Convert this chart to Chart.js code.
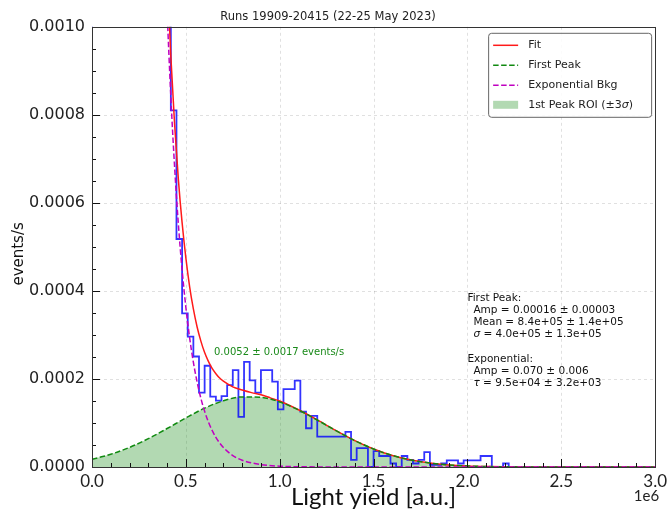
<!DOCTYPE html>
<html>
<head>
<meta charset="utf-8">
<script src="https://cdn.jsdelivr.net/npm/chart.js@4.4.1/dist/chart.umd.min.js"></script>
<style>
  html, body { margin: 0; padding: 0; background: #fff; }
  #wrap { width: 671px; height: 513px; }
</style>
</head>
<body>
<div id="wrap"><canvas id="c" width="671" height="513"></canvas></div>
<script>
// Light yield spectrum with first-peak + exponential fit
// x in units of 1e6 a.u., y in events/s

const binWidth = 0.03

// histogram, one value per bin starting at 0 (first bins are off scale)
const histCounts = [
  0.0696, 0.0505, 0.0369, 0.0265, 0.0193, 0.0141, 0.0102, 0.0074, 0.0054, 0.0039,
  0.0029, 0.0021, 0.0015, 0.00112, 0.00081, 0.000518, 0.000349, 0.000296, 0.000251, 0.000169,
  0.000230, 0.000160, 0.000151, 0.000161, 0.000186, 0.000220, 0.000114, 0.000239, 0.000197, 0.000169,
  0.000220, 0.000220, 0.000194, 0.000131, 0.000177, 0.000177, 0.000196, 0.000126, 0.000088, 0.000116,
  0.000069, 0.000069, 0.000069, 0.000069, 0.000069, 0.000080, 0.000016, 0.000043, 0.000043, 0,
  0.000036, 0.000025, 0.000025, 0.000008, 0, 0.000025, 0.000016, 0.000008, 0.000016, 0.000034,
  0.000005, 0.000005, 0.000008, 0.000015, 0.000015, 0.000008, 0.000015, 0.000015, 0.000015, 0.000025,
  0.000025, 0, 0, 0.000008
]

// total fit
const fitX = [0.36, 0.38, 0.40, 0.42, 0.44, 0.46, 0.48, 0.50, 0.52, 0.54, 0.56, 0.58, 0.60, 0.62, 0.64, 0.66, 0.68, 0.70,
  0.75, 0.80, 0.85, 0.90, 0.95, 1.0, 1.1, 1.2, 1.3, 1.4, 1.5, 1.6, 1.7, 1.8, 1.9, 2.0, 2.1, 2.2, 2.3, 2.5, 3.0]
const fitY = [0.001662, 0.001365, 0.001126, 0.000933, 0.000779, 0.000654, 0.000555, 0.000475, 0.000410, 0.000359,
  0.000318, 0.000286, 0.000260, 0.000240, 0.000224, 0.000212, 0.000202, 0.000195,
  0.000182, 0.000175, 0.000169, 0.000164, 0.000157, 0.000150, 0.000130, 0.000107, 0.0000826, 0.0000600,
  0.0000410, 0.0000263, 0.0000159, 0.0000090, 0.0000048, 0.0000024, 0.0000011, 0.0000005, 0.0000002, 0, 0]

// first peak (gaussian part)
const peakX = [0, 0.1, 0.2, 0.3, 0.4, 0.5, 0.6, 0.7, 0.8, 0.9, 1.0, 1.1, 1.2, 1.3, 1.4, 1.5,
  1.6, 1.7, 1.8, 1.9, 2.0, 2.1, 2.2, 2.3, 2.4, 2.5, 2.6, 2.7, 2.8, 2.9, 3.0]
const peakY = [0.0000176, 0.0000289, 0.0000445, 0.0000643, 0.0000874, 0.0001115, 0.0001337, 0.0001505,
  0.0001592, 0.0001582, 0.0001477, 0.0001296, 0.0001067, 0.0000826, 0.0000600, 0.0000410,
  0.0000263, 0.0000159, 0.0000090, 0.0000048, 0.0000024, 0.0000011, 0.0000005, 0.0000002, 0, 0, 0, 0, 0, 0, 0]

// exponential background
const expX = [0.36, 0.38, 0.40, 0.42, 0.44, 0.46, 0.48, 0.50, 0.52, 0.54, 0.56, 0.58, 0.60, 0.62, 0.64, 0.66, 0.68, 0.70,
  0.75, 0.80, 0.90, 1.0, 1.2, 1.5, 2.0, 3.0]
const expY = [0.001584, 0.001282, 0.001039, 0.000841, 0.000682, 0.000552, 0.000448, 0.000363, 0.000294, 0.000238,
  0.000193, 0.000156, 0.0001265, 0.0001025, 0.0000831, 0.0000673, 0.0000545, 0.0000442,
  0.000026, 0.0000154, 0.0000054, 0.0000019, 0.0000002, 0, 0, 0]

// mean +- 3 sigma
const roiRange = [-0.36, 2.04]

const xTicks = [0, 0.5, 1.0, 1.5, 2.0, 2.5, 3.0]
const yTicks = [0, 0.0002, 0.0004, 0.0006, 0.0008, 0.0010]

const titleText = 'Runs 19909-20415 (22-25 May 2023)'
const yTitle = 'events/s'
const roiText = '0.0052 ± 0.0017 events/s'
const fitInfo = [
  ['', 'First Peak:', 0],
  ['', 'Amp = 0.00016 ± 0.00003', 1],
  ['', 'Mean = 8.4e+05 ± 1.4e+05', 1],
  ['σ', ' = 4.0e+05 ± 1.3e+05', 1],
  ['', '', 0],
  ['', 'Exponential:', 0],
  ['', 'Amp = 0.070 ± 0.006', 1],
  ['τ', ' = 9.5e+04 ± 3.2e+03', 1],
]

const SANS = "'DejaVu Sans', sans-serif"
const LATO = "Lato, 'Open Sans', sans-serif"

Chart.defaults.font.family = SANS
Chart.defaults.color = '#222'

const histPts = [{ x: 0, y: 0 }]
histCounts.forEach((c, i) => histPts.push({ x: i * binWidth, y: c }))
histPts.push({ x: histCounts.length * binWidth, y: 0 })

const toPts = (xs, ys) => xs.map((x, i) => ({ x, y: ys[i] }))
const roiPts = toPts(peakX, peakY).filter(p => p.x >= roiRange[0] && p.x <= roiRange[1])

// text with italic greek letters (sigma / tau)
function drawRich(ctx, text, x, y, size) {
  const parts = text.split(/([στ])/)
  let cx = x
  parts.forEach(p => {
    if (!p) return
    ctx.font = (/[στ]/.test(p) ? 'italic ' : '') + size + 'px ' + SANS
    ctx.fillText(p, cx, y)
    cx += ctx.measureText(p).width
  })
}

// legend shows fit, peak, exp, roi
const legendOrder = [2, 3, 4, 1]

const decorations = {
  id: 'decorations',
  beforeDatasetsDraw(chart) {
    const { ctx, chartArea: a, scales: { x, y } } = chart
    ctx.save()
    ctx.strokeStyle = 'rgba(0,0,0,0.12)'
    ctx.lineWidth = 1
    ctx.setLineDash([3, 3])
    ctx.beginPath()
    xTicks.forEach(v => {
      const px = Math.round(x.getPixelForValue(v)) + 0.5
      ctx.moveTo(px, a.top); ctx.lineTo(px, a.bottom)
    })
    yTicks.forEach(v => {
      const py = Math.round(y.getPixelForValue(v)) + 0.5
      ctx.moveTo(a.left, py); ctx.lineTo(a.right, py)
    })
    ctx.stroke()
    ctx.restore()
  },
  afterDatasetsDraw(chart) {
    const { ctx, chartArea: a, scales: { x, y } } = chart
    ctx.save()

    // inward ticks, bottom + left
    ctx.strokeStyle = '#111'
    ctx.lineWidth = 1
    ctx.beginPath()
    for (let i = 0; i <= 30; i++) {
      const px = Math.round(x.getPixelForValue(i / 10)) + 0.5
      const len = i % 5 === 0 ? 8 : 4
      ctx.moveTo(px, a.bottom); ctx.lineTo(px, a.bottom - len)
    }
    for (let i = 0; i <= 20; i++) {
      const py = Math.round(y.getPixelForValue(i * 0.00005)) + 0.5
      const len = i % 4 === 0 ? 8 : 4
      ctx.moveTo(a.left, py); ctx.lineTo(a.left + len, py)
    }
    ctx.stroke()

    // frame
    ctx.strokeStyle = '#333'
    ctx.strokeRect(Math.round(a.left) + 0.5, Math.round(a.top) + 0.5, Math.round(a.width), Math.round(a.height))

    // y axis title, sits a bit below centre in the original
    ctx.save()
    ctx.translate(19, (a.top + a.bottom) / 2 + 7)
    ctx.rotate(-Math.PI / 2)
    ctx.textAlign = 'center'
    ctx.textBaseline = 'middle'
    ctx.fillStyle = '#111'
    ctx.font = '15px ' + SANS
    ctx.fillText(yTitle, 0, 0)
    ctx.restore()

    // ROI integral
    ctx.fillStyle = '#1a8a1a'
    ctx.textBaseline = 'middle'
    ctx.textAlign = 'left'
    ctx.font = '10px ' + SANS
    ctx.fillText(roiText, x.getPixelForValue(0.65), y.getPixelForValue(0.00026))

    // fit parameters
    ctx.fillStyle = '#111'
    const bx = x.getPixelForValue(2.0)
    const by = y.getPixelForValue(0.000384)
    fitInfo.forEach(([sym, txt, ind], i) => {
      drawRich(ctx, sym + txt, bx + ind * 6, by + i * 12.2, 10.5)
    })

    // offset label
    ctx.font = '15px ' + LATO
    ctx.textAlign = 'right'
    ctx.fillStyle = '#222'
    ctx.fillText('1e6', a.right + 4, x.bottom - 17)

    // legend
    const w = 163, h = 84
    const lx = a.right - w - 4, ly = a.top + 6
    ctx.fillStyle = 'rgba(255,255,255,0.85)'
    ctx.strokeStyle = '#666'
    ctx.beginPath()
    ctx.roundRect(lx + 0.5, ly + 0.5, w, h, 3)
    ctx.fill(); ctx.stroke()
    ctx.textAlign = 'left'
    legendOrder.forEach((di, i) => {
      const ds = chart.data.datasets[di]
      const ry = ly + 12 + i * 20
      if (ds.fill) {
        ctx.fillStyle = ds.backgroundColor
        ctx.fillRect(lx + 5, ry - 4, 25, 8)
      } else {
        ctx.strokeStyle = ds.borderColor
        ctx.lineWidth = ds.borderWidth
        ctx.setLineDash(ds.borderDash || [])
        ctx.beginPath(); ctx.moveTo(lx + 5, ry + 0.5); ctx.lineTo(lx + 30, ry + 0.5); ctx.stroke()
        ctx.setLineDash([])
      }
      ctx.fillStyle = '#222'
      drawRich(ctx, ds.label, lx + 40, ry, 11)
    })
    ctx.restore()
  }
}

new Chart(document.getElementById('c'), {
  type: 'line',
  data: {
    datasets: [
      { label: 'Data', data: histPts, stepped: true, borderColor: 'rgba(0,0,255,0.8)', borderWidth: 1.8,
        pointRadius: 0, fill: false, order: 4 },
      { label: '1st Peak ROI (±3σ)', data: roiPts, borderWidth: 0, pointRadius: 0,
        backgroundColor: 'rgba(0,128,0,0.3)', fill: 'origin', cubicInterpolationMode: 'monotone', order: 5 },
      { label: 'Fit', data: toPts(fitX, fitY), borderColor: '#ff1a1a', borderWidth: 1.5, pointRadius: 0,
        fill: false, cubicInterpolationMode: 'monotone', order: 3 },
      { label: 'First Peak', data: toPts(peakX, peakY), borderColor: '#108a10', borderWidth: 1.5, borderDash: [5.5, 2.5],
        pointRadius: 0, fill: false, cubicInterpolationMode: 'monotone', order: 2 },
      { label: 'Exponential Bkg', data: toPts(expX, expY), borderColor: '#c000c0', borderWidth: 1.5, borderDash: [5.5, 2.5],
        pointRadius: 0, fill: false, cubicInterpolationMode: 'monotone', order: 1 },
    ]
  },
  options: {
    responsive: false,
    animation: false,
    devicePixelRatio: 1,
    events: [],
    layout: { padding: { left: 0, right: 15, top: 0, bottom: 0 } },
    plugins: {
      legend: { display: false },
      tooltip: { enabled: false },
      title: { display: true, text: titleText, font: { size: 11.5, weight: 'normal' }, color: '#222',
        padding: { top: 10, bottom: 3 } },
    },
    scales: {
      x: {
        type: 'linear', min: 0, max: 3,
        afterBuildTicks: s => { s.ticks = xTicks.map(v => ({ value: v })) },
        afterFit: s => { s.height = 46 },
        ticks: { callback: v => v.toFixed(1), font: { family: LATO, size: 17 }, color: '#222', padding: 4, maxRotation: 0 },
        grid: { display: false, drawTicks: false },
        border: { display: false },
        title: { display: true, text: 'Light yield [a.u.]', font: { family: LATO, size: 24 }, color: '#111',
          padding: { top: 0, bottom: 1 } },
      },
      y: {
        min: 0, max: 0.001,
        afterBuildTicks: s => { s.ticks = yTicks.map(v => ({ value: v })) },
        afterFit: s => { s.width = 92 },
        ticks: { callback: v => v.toFixed(4), font: { size: 16 }, color: '#222', padding: 7 },
        grid: { display: false, drawTicks: false },
        border: { display: false },
        title: { display: false },
      },
    },
  },
  plugins: [decorations],
})
</script>
</body>
</html>
